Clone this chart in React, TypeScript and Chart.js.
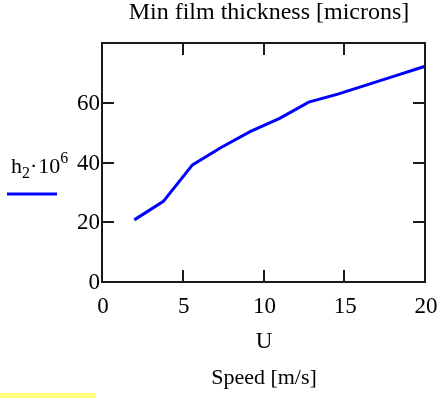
import React, { useEffect, useRef } from "react";
import { Chart, registerables } from "chart.js";

Chart.register(...registerables);

const speedU = [2, 3.8, 5.6, 7.4, 9.2, 11, 12.8, 14.6, 16.4, 18.2, 20];
const thicknessH = [20.8, 27.0, 39.2, 45.1, 50.4, 54.8, 60.2, 62.9, 66.0, 69.1, 72.2];
const xTicks = [0, 5, 10, 15, 20];
const yTicks = [0, 20, 40, 60];
const titleText = "Min film thickness [microns]";
const xVarText = "U";
const xAxisText = "Speed [m/s]";

const FONT = "'Liberation Serif', 'Times New Roman', serif";

const decorPlugin = {
  id: "decor",
  afterDraw(chart: any) {
    const ctx = chart.ctx as CanvasRenderingContext2D;
    const area = chart.chartArea;
    const xs = chart.scales.x;
    const ys = chart.scales.y;
    ctx.save();
    // frame
    ctx.strokeStyle = "#1a1a1a";
    ctx.lineWidth = 2;
    ctx.strokeRect(area.left, area.top, area.right - area.left, area.bottom - area.top);
    // inward ticks
    const tl = 12;
    ctx.lineWidth = 2;
    ctx.beginPath();
    xTicks.forEach((v) => {
      if (v === xTicks[0] || v === xTicks[xTicks.length - 1]) return;
      const px = Math.round(xs.getPixelForValue(v));
      ctx.moveTo(px, area.bottom);
      ctx.lineTo(px, area.bottom - tl);
      ctx.moveTo(px, area.top);
      ctx.lineTo(px, area.top + tl);
    });
    yTicks.forEach((v) => {
      if (v === yTicks[0]) return;
      const py = Math.round(ys.getPixelForValue(v));
      ctx.moveTo(area.left, py);
      ctx.lineTo(area.left + tl, py);
      ctx.moveTo(area.right, py);
      ctx.lineTo(area.right - tl, py);
    });
    ctx.stroke();

    ctx.fillStyle = "#000";
    ctx.font = `23px ${FONT}`;
    // y tick labels
    ctx.textAlign = "right";
    ctx.textBaseline = "middle";
    yTicks.forEach((v) => {
      const py = ys.getPixelForValue(v);
      ctx.fillText(String(v), area.left - 2, py + 1);
    });
    // x tick labels
    ctx.textAlign = "center";
    ctx.textBaseline = "alphabetic";
    xTicks.forEach((v) => {
      const px = xs.getPixelForValue(v);
      ctx.fillText(String(v), px + 1, 313);
    });
    // U
    ctx.fillText(xVarText, 264, 348);
    // title
    ctx.font = `24px ${FONT}`;
    ctx.fillText(titleText, 269, 19);
    // Speed
    ctx.font = `22px ${FONT}`;
    ctx.fillText(xAxisText, 264, 384);

    // left legend label h2·10^6
    ctx.textAlign = "left";
    ctx.font = `22px ${FONT}`;
    let x = 11;
    const base = 173;
    ctx.fillText("h", x, base);
    x += ctx.measureText("h").width;
    ctx.font = `16px ${FONT}`;
    ctx.fillText("2", x, base + 5);
    x += ctx.measureText("2").width;
    ctx.font = `22px ${FONT}`;
    ctx.fillText("·", x, base);
    x += ctx.measureText("·").width + 1;
    ctx.fillText("10", x, base);
    x += ctx.measureText("10").width;
    ctx.font = `16px ${FONT}`;
    ctx.fillText("6", x, base - 10);

    // legend line
    ctx.strokeStyle = "#0000ff";
    ctx.lineWidth = 3;
    ctx.beginPath();
    ctx.moveTo(7, 194);
    ctx.lineTo(57, 194);
    ctx.stroke();

    // yellow strip
    ctx.fillStyle = "#ffff80";
    ctx.fillRect(0, 393, 96, 5);
    ctx.restore();
  },
};

export default function App() {
  const ref = useRef<HTMLCanvasElement | null>(null);
  useEffect(() => {
    if (!ref.current) return;
    const chart = new Chart(ref.current, {
      type: "line",
      data: {
        datasets: [
          {
            data: speedU.map((u, i) => ({ x: u, y: thicknessH[i] })),
            borderColor: "#0000ff",
            borderWidth: 3,
            pointRadius: 0,
            tension: 0,
            fill: false,
          },
        ],
      },
      options: {
        responsive: false,
        animation: false,
        layout: { padding: { left: 102, top: 43, right: 20, bottom: 116 } },
        plugins: { legend: { display: false }, title: { display: false }, tooltip: { enabled: false } },
        scales: {
          x: { type: "linear", min: 0, max: 20, display: false },
          y: { type: "linear", min: 0, max: 80, display: false },
        },
      },
      plugins: [decorPlugin],
    });
    return () => chart.destroy();
  }, []);
  return (
    <div style={{ position: "absolute", left: 0, top: 0, width: 445, height: 398, background: "#fff" }}>
      <canvas ref={ref} width={445} height={398} style={{ width: 445, height: 398 }} />
    </div>
  );
}
